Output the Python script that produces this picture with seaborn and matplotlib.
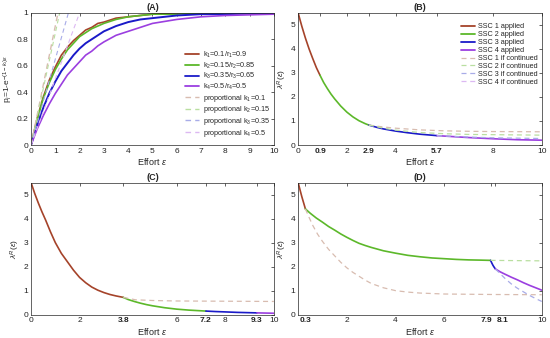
import numpy as np
import pandas as pd
import matplotlib
matplotlib.use("Agg")
import matplotlib.pyplot as plt
import matplotlib.transforms as mtransforms
from matplotlib.lines import Line2D
import seaborn as sns

# ---------------- data ----------------
# Panel A: p_i curves
a_x = [0, 0.25, 0.5, 0.75, 1, 1.25, 1.5, 1.75, 2, 2.25, 2.5, 2.75, 3, 3.5, 4, 4.5, 5, 6, 7, 8, 10]
a_k1 = [0, 0.20, 0.36, 0.49, 0.59, 0.68, 0.74, 0.79, 0.83, 0.87, 0.89, 0.92, 0.93, 0.96, 0.97, 0.98, 0.99, 1.0, 1.0, 1.0, 1.0]
a_k2 = [0, 0.19, 0.35, 0.47, 0.57, 0.65, 0.72, 0.77, 0.82, 0.85, 0.88, 0.90, 0.92, 0.95, 0.97, 0.98, 0.99, 0.99, 1.0, 1.0, 1.0]
a_k3 = [0, 0.15, 0.28, 0.39, 0.48, 0.56, 0.62, 0.68, 0.73, 0.77, 0.80, 0.83, 0.86, 0.90, 0.93, 0.95, 0.96, 0.98, 0.99, 0.99, 1.0]
a_k4 = [0, 0.12, 0.22, 0.31, 0.39, 0.46, 0.53, 0.58, 0.63, 0.68, 0.71, 0.75, 0.78, 0.83, 0.86, 0.89, 0.92, 0.95, 0.97, 0.98, 0.99]
prop_end = [1.11, 1.18, 1.54, 2.0]   # effort where proportional line reaches 1
a_labels = [r'k$_1$=0.1/r$_1$=0.9', r'k$_2$=0.15/r$_2$=0.85',
            r'k$_3$=0.35/r$_3$=0.65', r'k$_4$=0.5/r$_4$=0.5']
prop_labels = [r'proportional k$_1$=0.1', r'proportional k$_2$=0.15',
               r'proportional k$_3$=0.35', r'proportional k$_4$=0.5']

# Panel B
b_x = [0, 0.15, 0.3, 0.45, 0.6, 0.75, 0.9, 1.05, 1.2, 1.35, 1.5, 1.75, 2.0, 2.25, 2.5, 2.75,
       2.9, 3.25, 3.5, 4.0, 4.5, 5.0, 5.7, 6.5, 7.0, 8.0, 9.0, 10]
b_y = [5.5, 4.95, 4.45, 4.0, 3.6, 3.22, 2.9, 2.6, 2.35, 2.12, 1.92, 1.62, 1.37, 1.17, 1.01, 0.89,
       0.83, 0.73, 0.67, 0.58, 0.51, 0.45, 0.39, 0.34, 0.31, 0.26, 0.22, 0.2]
b_switch = [0.9, 2.9, 5.7]
b_c1_x = [2.9, 3.5, 4, 5, 6, 7, 8, 10]
b_c1_y = [0.83, 0.75, 0.70, 0.63, 0.59, 0.57, 0.56, 0.55]
b_c2_x = [2.9, 3.5, 4, 5, 6, 7, 8, 10]
b_c2_y = [0.83, 0.70, 0.62, 0.52, 0.47, 0.44, 0.43, 0.41]
b_c3_x = [5.7, 7, 8, 10]
b_c3_y = [0.39, 0.33, 0.30, 0.27]
b_ticks = [0, 0.9, 2, 2.9, 4, 5.7, 8, 10]

# Panel C
c_x = [0, 0.15, 0.3, 0.45, 0.6, 0.8, 1.0, 1.25, 1.5, 1.75, 2.0, 2.25, 2.5, 2.75, 3.0, 3.25, 3.5,
       3.8, 4.0, 4.25, 4.5, 4.75, 5.0, 5.5, 6.0, 6.5, 7.2, 7.6, 8.0, 8.5, 9.3, 10]
c_y = [5.5, 5.05, 4.65, 4.28, 3.94, 3.45, 3.0, 2.55, 2.2, 1.85, 1.55, 1.33, 1.15, 1.02, 0.92, 0.84, 0.78,
       0.72, 0.63, 0.55, 0.48, 0.42, 0.37, 0.29, 0.23, 0.19, 0.15, 0.13, 0.115, 0.095, 0.075, 0.06]
c_switch = [3.8, 7.2, 9.3]
c_c1_x = [3.8, 4.3, 5, 6, 8, 10]
c_c1_y = [0.72, 0.62, 0.59, 0.57, 0.56, 0.55]
c_ticks = [0, 2, 3.8, 6, 7.2, 8, 9.3, 10]

# Panel D
d_x = [0, 0.15, 0.3, 0.5, 0.75, 1, 1.25, 1.5, 1.75, 2, 2.25, 2.5, 2.75, 3, 3.5, 4, 4.5, 5, 5.5,
       6, 6.5, 7, 7.5, 7.9, 7.95, 8.0, 8.05, 8.1, 8.3, 8.5, 8.75, 9, 9.25, 9.5, 9.75, 10]
d_y = [5.5, 4.92, 4.4, 4.22, 4.02, 3.85, 3.67, 3.52, 3.36, 3.22, 3.09, 2.97, 2.88, 2.8, 2.66, 2.56,
       2.47, 2.41, 2.36, 2.33, 2.3, 2.28, 2.27, 2.26, 2.15, 2.05, 1.97, 1.9, 1.78, 1.68, 1.56,
       1.45, 1.33, 1.22, 1.12, 1.02]
d_switch = [0.3, 7.9, 8.1]
d_c1_x = [0.3, 0.45, 0.6, 0.8, 1, 1.25, 1.5, 1.75, 2, 2.25, 2.5, 2.75, 3, 3.5, 4, 4.5, 5, 6, 8, 10]
d_c1_y = [4.4, 4.05, 3.72, 3.35, 3.05, 2.72, 2.45, 2.18, 1.95, 1.76, 1.6, 1.44, 1.3, 1.12, 1.0,
          0.94, 0.9, 0.86, 0.84, 0.83]
d_c2_x = [7.9, 10]
d_c2_y = [2.26, 2.24]
d_c3_x = [8.1, 8.3, 8.5, 8.75, 9, 9.25, 9.5, 9.75, 10]
d_c3_y = [1.9, 1.7, 1.5, 1.28, 1.1, 0.95, 0.8, 0.67, 0.55]
d_ticks = [0.3, 2, 4, 6, 7.9, 8.1, 10]

ssc_labels_app = ['SSC 1 applied', 'SSC 2 applied', 'SSC 3 applied', 'SSC 4 applied']
ssc_labels_cont = ['SSC 1 if continued', 'SSC 2 if continued',
                   'SSC 3 if continued', 'SSC 4 if continued']

# ---------------- style ----------------
sns.set_style("white")
plt.rcParams['font.family'] = ['Liberation Sans', 'DejaVu Sans']
plt.rcParams['mathtext.fontset'] = 'custom'
plt.rcParams['mathtext.rm'] = 'Liberation Sans'
plt.rcParams['mathtext.it'] = 'Liberation Sans:italic'

COL = ['#a5432a', '#5cb82a', '#1a1ac8', '#9b3fe0']
DCOL = ['#d8bcb0', '#b9dfa0', '#a8ace8', '#dcb8f2']
TS = 6
DASH = (0, (4, 3))

fig = plt.figure(figsize=(5.5, 3.38), dpi=100)
axA = fig.add_axes([0.0564, 0.571, 0.4416, 0.391])
axB = fig.add_axes([0.542, 0.571, 0.443, 0.391])
axC = fig.add_axes([0.0564, 0.069, 0.4416, 0.391])
axD = fig.add_axes([0.542, 0.069, 0.443, 0.391])


def line(ax, x, y, color, ls='-', lw=1.2):
    df = pd.DataFrame({'x': x, 'y': y})
    sns.lineplot(data=df, x='x', y='y', ax=ax, color=color, linestyle=ls,
                 linewidth=lw, sort=False, estimator=None, legend=False)


def seg(x, y, lo, hi):
    xs = [xi for xi in x if lo - 1e-9 <= xi <= hi + 1e-9]
    ys = [yi for xi, yi in zip(x, y) if lo - 1e-9 <= xi <= hi + 1e-9]
    return xs, ys


def style(ax, title, ticks=None, bold=()):
    ax.set_xlim(0, 10)
    ax.tick_params(direction='in', length=2.5, width=0.5, labelsize=TS, pad=2,
                   top=True, right=True, colors='#222222')
    for s in ax.spines.values():
        s.set_linewidth(0.5)
        s.set_color('#262626')
    ax.set_title(title, fontsize=6.5, fontweight='bold', pad=2)
    ax.set_xlabel(r'Effort $\epsilon$', fontsize=6.5, labelpad=1)
    if ticks is not None:
        ax.set_xticks(ticks)
        ax.set_xticklabels([('%g' % t) for t in ticks])
        for lab, t in zip(ax.get_xticklabels(), ticks):
            if t in bold:
                lab.set_fontweight('bold')


# ---- Panel A ----
for i, yv in enumerate([a_k1, a_k2, a_k3, a_k4]):
    line(axA, a_x, yv, COL[i], lw=1.2 if i != 2 else 1.4)
for i, xe in enumerate(prop_end):
    line(axA, [0, xe], [0, 1], DCOL[i], ls=DASH, lw=1.0 if i == 0 else 0.8)
axA.set_ylim(0, 1)
axA.set_yticks([0, 0.2, 0.4, 0.6, 0.8, 1])
axA.set_yticklabels(['0', '0.2', '0.4', '0.6', '0.8', '1'])
axA.set_xticks(range(0, 11))
style(axA, '(A)')
axA.set_ylabel(r'p$_i$=1-e$^{-(1-k_i)\epsilon}$', fontsize=6, labelpad=1)
hA = [Line2D([], [], color=COL[i], lw=1.3) for i in range(4)] + \
     [Line2D([], [], color=DCOL[i], lw=1.0, ls=DASH) for i in range(4)]
axA.legend(hA, a_labels + prop_labels, loc='lower right', fontsize=5.2, frameon=False,
           handlelength=1.9, handletextpad=0.5, labelspacing=0.08,
           bbox_to_anchor=(1.01, 0.0))

# ---- Panel B ----
bounds = [0] + b_switch + [10]
for i in range(4):
    xs, ys = seg(b_x, b_y, bounds[i], bounds[i + 1])
    line(axB, xs, ys, COL[i])
line(axB, b_c1_x, b_c1_y, DCOL[0], ls=DASH, lw=0.9)
line(axB, b_c2_x, b_c2_y, DCOL[1], ls=DASH, lw=0.9)
line(axB, b_c3_x, b_c3_y, DCOL[2], ls=DASH, lw=0.9)
axB.set_ylim(0, 5.5)
axB.set_yticks([0, 1, 2, 3, 4, 5])
style(axB, '(B)', b_ticks, bold=b_switch)
axB.set_ylabel(r'$\lambda^{R}(\epsilon)$', fontsize=6, labelpad=1)
hB = [Line2D([], [], color=COL[i], lw=1.3) for i in range(4)] + \
     [Line2D([], [], color=DCOL[i], lw=0.9, ls=DASH) for i in range(4)]
axB.legend(hB, ssc_labels_app + ssc_labels_cont, loc='upper right', fontsize=5.2,
           frameon=False, handlelength=1.9, handletextpad=0.4, labelspacing=0.12,
           bbox_to_anchor=(1.01, 0.97))

# ---- Panel C ----
bounds = [0] + c_switch + [10]
for i in range(4):
    xs, ys = seg(c_x, c_y, bounds[i], bounds[i + 1])
    line(axC, xs, ys, COL[i])
line(axC, c_c1_x, c_c1_y, DCOL[0], ls=DASH, lw=0.9)
axC.set_ylim(0, 5.5)
axC.set_yticks([0, 1, 2, 3, 4, 5])
style(axC, '(C)', c_ticks, bold=c_switch)
axC.set_ylabel(r'$\lambda^{R}(\epsilon)$', fontsize=6, labelpad=1)

# ---- Panel D ----
bounds = [0] + d_switch + [10]
for i in range(4):
    xs, ys = seg(d_x, d_y, bounds[i], bounds[i + 1])
    line(axD, xs, ys, COL[i])
line(axD, d_c1_x, d_c1_y, DCOL[0], ls=DASH, lw=0.9)
line(axD, d_c2_x, d_c2_y, DCOL[1], ls=DASH, lw=0.9)
line(axD, d_c3_x, d_c3_y, DCOL[2], ls=DASH, lw=0.9)
axD.set_ylim(0, 5.5)
axD.set_yticks([0, 1, 2, 3, 4, 5])
style(axD, '(D)', d_ticks, bold=d_switch)
axD.set_ylabel(r'$\lambda^{R}(\epsilon)$', fontsize=6, labelpad=1)
# nudge the two crowded labels apart
labs = axD.get_xticklabels()
for lab, t in zip(labs, d_ticks):
    if t == 7.9:
        lab.set_transform(lab.get_transform() + mtransforms.ScaledTranslation(-3 / 72, 0, fig.dpi_scale_trans))
    if t == 8.1:
        lab.set_transform(lab.get_transform() + mtransforms.ScaledTranslation(5 / 72, 0, fig.dpi_scale_trans))

fig.savefig('out.png', dpi=100)
